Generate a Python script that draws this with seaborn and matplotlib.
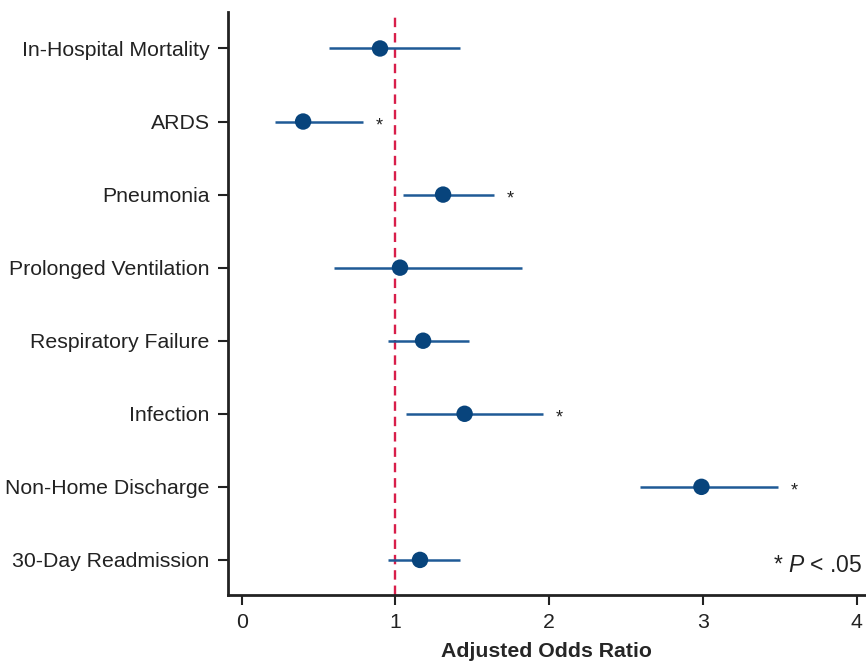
import numpy as np
import pandas as pd
import matplotlib
matplotlib.use('Agg')
import matplotlib.pyplot as plt
import seaborn as sns

outcomes = ['In-Hospital Mortality', 'ARDS', 'Pneumonia', 'Prolonged Ventilation',
            'Respiratory Failure', 'Infection', 'Non-Home Discharge', '30-Day Readmission']
odds_ratio = [0.90, 0.40, 1.31, 1.03, 1.18, 1.45, 2.99, 1.16]
ci_low = [0.57, 0.22, 1.05, 0.60, 0.95, 1.07, 2.59, 0.95]
ci_high = [1.42, 0.79, 1.64, 1.82, 1.48, 1.96, 3.49, 1.42]
significant = [False, True, True, False, False, True, True, False]

df = pd.DataFrame({'outcome': outcomes, 'aor': odds_ratio,
                   'lo': ci_low, 'hi': ci_high, 'sig': significant})

sns.set_style('ticks')
plt.rcParams['font.family'] = ['Liberation Sans', 'DejaVu Sans']
plt.rcParams['mathtext.fontset'] = 'custom'
plt.rcParams['mathtext.rm'] = 'Liberation Sans'
plt.rcParams['mathtext.it'] = 'Liberation Sans:italic'

fig = plt.figure(figsize=(8.66, 6.63), dpi=100)
ax = fig.add_axes([0.263, 0.1026, 0.737, 0.8794])

ypos = np.arange(len(df))
ax.axvline(1, color='#D81E4A', linestyle=(0, (4, 2.5)), linewidth=1.7, zorder=1)
ax.hlines(ypos, df['lo'], df['hi'], color='#1F5A96', linewidth=1.8, zorder=2)
sns.scatterplot(x=df['aor'], y=ypos, ax=ax, s=140, color='#08447C',
                edgecolor='none', zorder=3, legend=False)

for y, row in zip(ypos, df.itertuples()):
    if row.sig:
        ax.annotate('*', xy=(row.hi, y), xytext=(9, -3), textcoords='offset points',
                    ha='left', va='center', fontsize=13, color='#222222')

# footnote for the stars
ax.text(0.995, 0.03, r'* $\it{P}$ < .05', transform=ax.transAxes, ha='right',
        va='bottom', fontsize=16.5, color='#222222')

ax.set_xlim(-0.09, 4.06)
ax.set_ylim(len(df) - 0.52, -0.5)
ax.set_yticks(ypos)
ax.set_yticklabels(df['outcome'])
ax.set_xticks([0, 1, 2, 3, 4])
ax.set_xlabel('Adjusted Odds Ratio', fontsize=15.3, fontweight='bold', labelpad=7)
ax.set_ylabel('')
ax.tick_params(axis='both', labelsize=15.3, length=7, width=1.5, color='#222222',
               labelcolor='#222222', pad=6)
sns.despine(ax=ax, top=True, right=True)
for side in ['left', 'bottom']:
    ax.spines[side].set_linewidth(2)
    ax.spines[side].set_color('#222222')

fig.savefig('out.png', dpi=100)
